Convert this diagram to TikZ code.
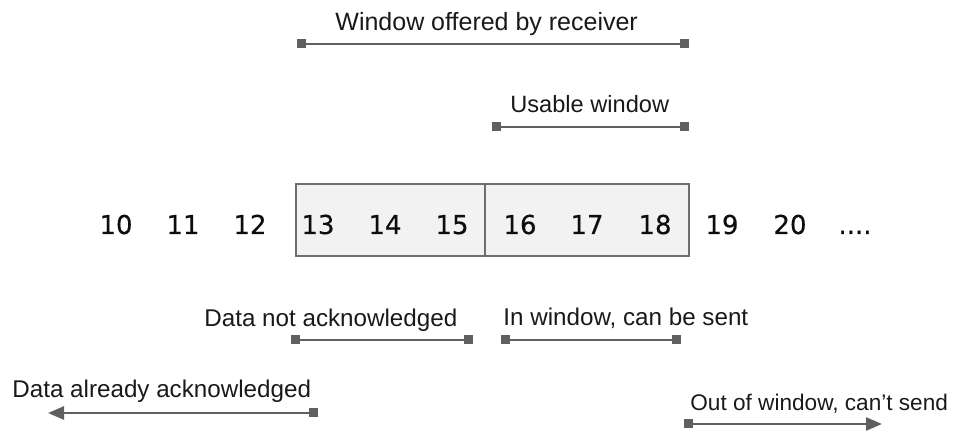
\documentclass[tikz,border=0pt]{standalone}
\usepackage{fontspec}
\setmainfont{Liberation Sans}
\newfontfamily\numfont[FakeBold=0.4]{DejaVu Sans}
\usetikzlibrary{arrows.meta, positioning}

\definecolor{linegray}{RGB}{96,96,96}
\definecolor{boxfill}{RGB}{242,242,242}
\definecolor{boxline}{RGB}{110,110,110}

\tikzset{
  span/.style={draw=linegray, line width=1.3pt,
    {Square[length=4.5pt,width=4.5pt]}-{Square[length=4.5pt,width=4.5pt]}},
  spanarrow/.style={draw=linegray, line width=1.3pt,
    {Square[length=4.5pt,width=4.5pt]}-{Triangle[length=8pt,width=6.5pt]}},
  lbl/.style={font=\fontsize{12.1}{14}\selectfont, text=black!90, inner sep=0pt, anchor=base west},
  num/.style={font=\numfont\fontsize{13}{15}\selectfont, text=black!95, inner sep=0pt, anchor=base},
}

\begin{document}
\begin{tikzpicture}[x=0.5pt, y=-0.5pt]
\useasboundingbox (0,0) rectangle (953,432);

% Window (box)
\fill[boxfill] (296,184) rectangle (689,256);
\draw[boxline, line width=1.1pt] (296,184) rectangle (689,256);
\draw[boxline, line width=0.9pt] (485,184) -- (485,256);

% Sequence numbers
\foreach \v/\x in {10/116, 11/183, 12/250, 13/318, 14/385, 15/452,
                   16/520, 17/587, 18/655, 19/722, 20/790}
  \node[num] (n\v) at (\x,234) {\v};
\node[num] (ndots) at (855,234) {....};

% Window offered by receiver
\coordinate (wo-l) at (297,44);
\coordinate (wo-r) at (689,44);
\node[lbl, font=\fontsize{12.5}{14}\selectfont] (wo-txt) at (335,31) {Window offered by receiver};
\draw[span] (wo-l) -- (wo-r);

% Usable window
\coordinate (uw-l) at (492,127);
\coordinate (uw-r) at (689,127);
\node[lbl, font=\fontsize{11.8}{14}\selectfont] (uw-txt) at (510,113) {Usable window};
\draw[span] (uw-l) -- (uw-r);

% Data not acknowledged
\coordinate (na-l) at (291,340);
\coordinate (na-r) at (473,340);
\node[lbl] (na-txt) at (204,327) {Data not acknowledged};
\draw[span] (na-l) -- (na-r);

% In window, can be sent
\coordinate (cs-l) at (501,340);
\coordinate (cs-r) at (681,340);
\node[lbl] (cs-txt) at (503,326) {In window, can be sent};
\draw[span] (cs-l) -- (cs-r);

% Data already acknowledged
\coordinate (aa-r) at (318,413);
\coordinate (aa-l) at (48,413);
\node[lbl] (aa-txt) at (12,398) {Data already acknowledged};
\draw[spanarrow] (aa-r) -- (aa-l);

% Out of window, can't send
\coordinate (ow-l) at (684,424);
\coordinate (ow-r) at (882,424);
\node[lbl, font=\fontsize{11.3}{14}\selectfont] (ow-txt) at (690,411) {Out of window, can’t send};
\draw[spanarrow] (ow-l) -- (ow-r);
\end{tikzpicture}
\end{document}
